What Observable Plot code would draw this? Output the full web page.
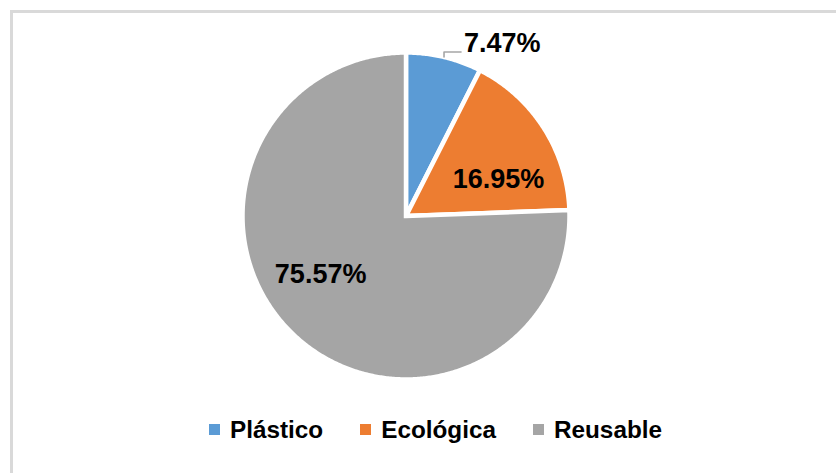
<!DOCTYPE html>
<html><head><meta charset="utf-8">
<script src="https://cdn.jsdelivr.net/npm/d3@7"></script>
<script src="https://cdn.jsdelivr.net/npm/@observablehq/plot@0.6"></script>
<style>
html,body{margin:0;padding:0;background:#fff;overflow:hidden;}
#wrap{position:relative;width:836px;height:473px;overflow:hidden;}
#frame{position:absolute;left:10px;top:10px;width:900px;height:600px;border:3px solid #d9d9d9;box-sizing:border-box;}
#chart{position:absolute;left:0;top:0;}
#legend{position:absolute;left:209px;top:413px;}
#legend .lg-swatches, #legend .lg{font-family:"Liberation Sans",Arial,sans-serif !important;font-size:24.3px !important;font-weight:bold !important;color:#000 !important;margin:0 !important;}
.lg-swatch{margin-right:37px !important;}
.lg-swatch > svg{margin-right:10px !important;}
</style></head><body>
<div id="wrap"><div id="frame"></div><div id="chart"></div><div id="legend"></div></div>
<script>
const categories = ["Plástico", "Ecológica", "Reusable"];
const values = [7.47, 16.95, 75.57];
const labels = ["7.47%", "16.95%", "75.57%"];
const colors = ["#5B9BD5", "#ED7D31", "#A5A5A5"];

const W = 836, H = 473, cx = 405.5, cy = 215.5, R = 163.5;
const rows = categories.map((name, i) => ({name, value: values[i], label: labels[i]}));
const arcs = d3.pie().sort(null).value(d => d.value)(rows);

const pts = [];
for (const a of arcs) {
  const n = Math.max(2, Math.ceil((a.endAngle - a.startAngle) / (Math.PI / 360)));
  pts.push({name: a.data.name, x: 0, y: 0});
  for (let k = 0; k <= n; k++) {
    const t = a.startAngle + (a.endAngle - a.startAngle) * k / n;
    pts.push({name: a.data.name, x: Math.sin(t), y: Math.cos(t)});
  }
}
const labelData = arcs.map(a => {
  const m = (a.startAngle + a.endAngle) / 2;
  return {name: a.data.name, label: a.data.label, m, lx: 0.62 * Math.sin(m), ly: 0.62 * Math.cos(m)};
});
// leader line for the outside label (first slice)
const lm = labelData[0].m;
const p1 = {x: Math.sin(lm), y: Math.cos(lm)};
const p2 = {x: p1.x, y: p1.y + 5 / R};
const p3 = {x: p1.x + 17 / R, y: p2.y};
const leader = [p1, p2, p3];
const outside = [{label: labelData[0].label, lx: p3.x, ly: p3.y}];

const font = "Liberation Sans, Arial, sans-serif";
const txt = {text: "label", fontSize: 27, fontWeight: "bold", fill: "#000", fontFamily: font};

const chart = Plot.plot({
  width: W, height: H, margin: 0,
  x: {domain: [-cx / R, (W - cx) / R], axis: null},
  y: {domain: [(cy - H) / R, cy / R], axis: null},
  color: {domain: categories, range: colors},
  style: {fontFamily: font, background: "transparent", overflow: "visible"},
  marks: [
    Plot.line(pts, {x: "x", y: "y", z: "name", fill: "name", stroke: "white", strokeWidth: 4.5, curve: "linear-closed", strokeLinejoin: "miter", strokeMiterlimit: 6}),
    Plot.line(leader, {x: "x", y: "y", stroke: "#a6a6a6", strokeWidth: 1.6}),
    Plot.text(outside, {x: "lx", y: "ly", ...txt, textAnchor: "start", lineAnchor: "middle", dx: 3, dy: -9}),
    Plot.text(labelData.filter(d => d.name === "Ecológica"), {x: "lx", y: "ly", ...txt, lineAnchor: "middle", dx: 7, dy: 18}),
    Plot.text(labelData.filter(d => d.name === "Reusable"), {x: "lx", y: "ly", ...txt, lineAnchor: "middle", dx: -15, dy: -15})
  ]
});
document.getElementById("chart").append(chart);

const leg = Plot.legend({
  color: {domain: categories, range: colors},
  swatchSize: 11,
  className: "lg"
});
document.getElementById("legend").append(leg);
</script>
</body></html>
